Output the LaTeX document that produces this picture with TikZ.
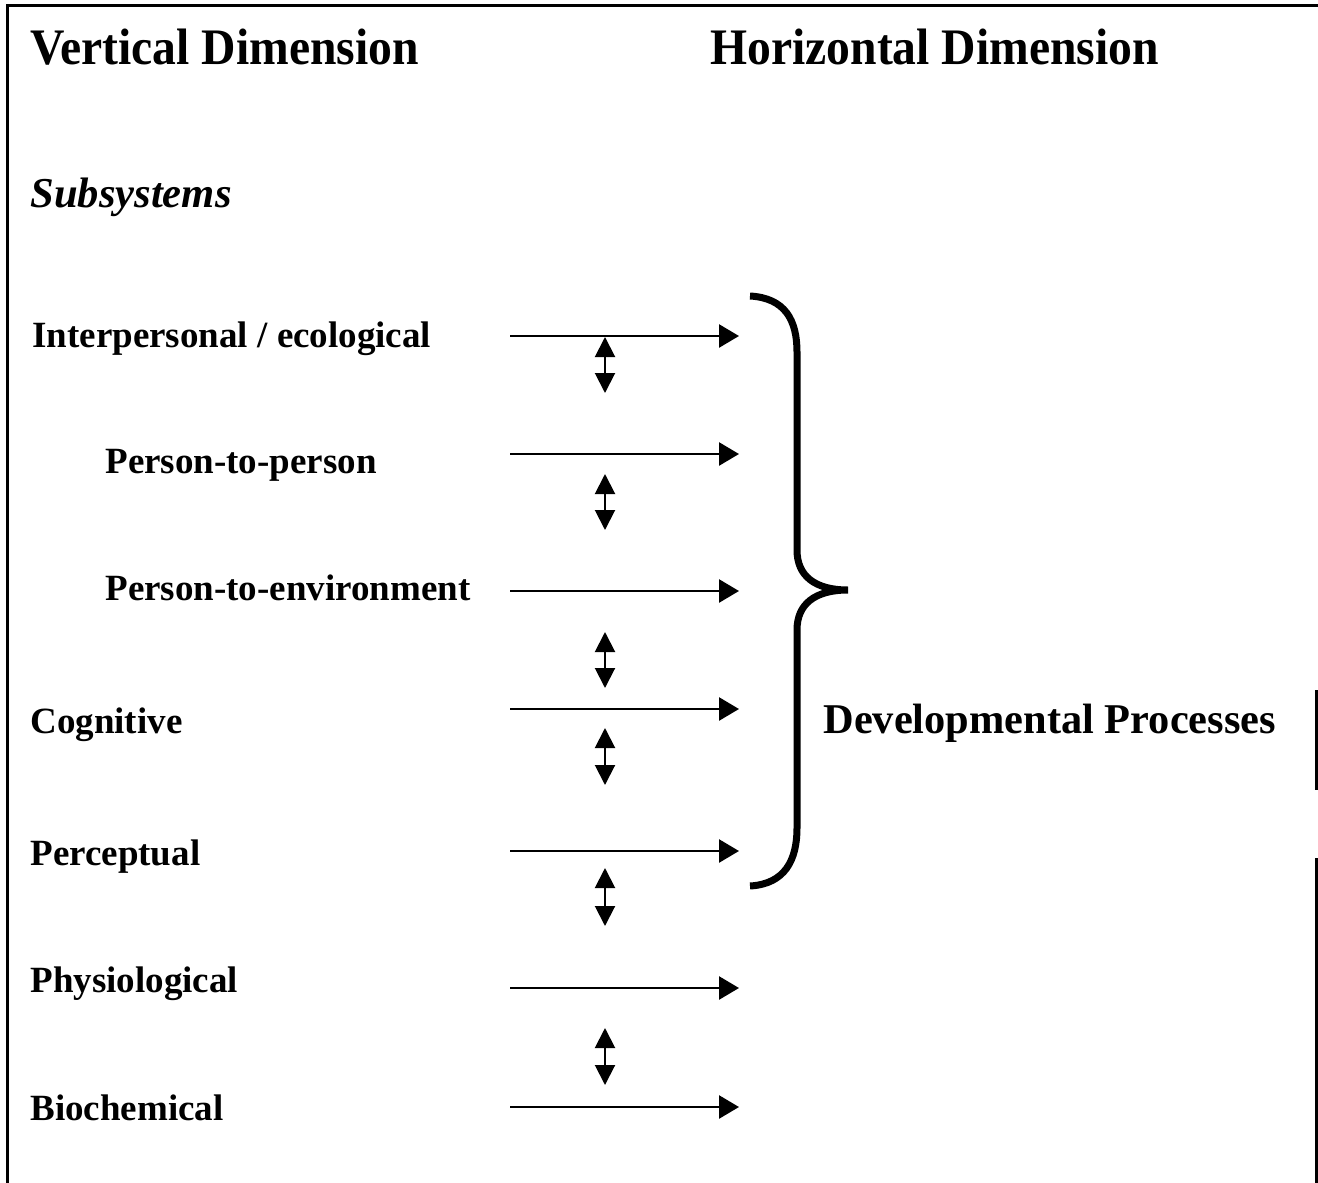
\documentclass[tikz,border=0pt]{standalone}
\usepackage{fontspec}
\setmainfont{Liberation Serif}
\usepackage{tikz}
\usetikzlibrary{arrows.meta}
\usetikzlibrary{positioning}
\tikzset{
  lbl/.style = {inner sep=0pt, anchor=base west, font=\fontsize{18.5}{22}\selectfont\bfseries},
  dim_title/.style = {inner sep=0pt, anchor=base west, xscale=0.93, transform shape,
    font=\fontsize{25.6}{30}\selectfont\bfseries},% titres, un peu serres
  sub_title/.style = {inner sep=0pt, anchor=base west,
    font=\fontsize{21.3}{25}\selectfont\bfseries\itshape},
  proc_lbl/.style = {lbl, font=\fontsize{21.2}{25}\selectfont\bfseries},
  flow_arr/.style = {line width=1.3pt, -{Triangle[length=10pt,width=11.5pt]}},% niveau -> processus
  link_arr/.style = {line width=1pt, {Triangle[length=10pt,width=10pt]}-{Triangle[length=10pt,width=10pt]}},
  frame_ln/.style = {line width=1.5pt}
}

\begin{document}
\begin{tikzpicture}[x=0.5pt,y=-0.5pt]
\useasboundingbox (0,0) rectangle (1318,1183);

% cadre
\draw[frame_ln] (7,1183) -- (7,5) -- (1318,5);
\draw[frame_ln] (1316,690) -- (1316,790);
\draw[frame_ln] (1316,858) -- (1316,1183);

\node[dim_title] (vdim) at (30,64) {Vertical Dimension};
\node[dim_title] (hdim) at (710,64) {Horizontal Dimension};
\node[sub_title] (subsys) at (30,207) {Subsystems};

\node[lbl] (inter) at (32,347) {Interpersonal / ecological};
\node[lbl] (pers) at (105,473) {Person-to-person};
\node[lbl] (envt) at (105,600) {Person-to-environment};
\node[lbl] (cogn) at (30,733) {Cognitive};
\node[lbl] (perc) at (30,865) {Perceptual};
\node[lbl] (phys) at (30,992) {Physiological};
\node[lbl] (bioc) at (30,1120) {Biochemical};
\node[proc_lbl] (devp) at (823,733) {Developmental Processes};

% fleches horizontales
\foreach \y [count=\i] in {336,454,591,709,851,988,1107}{
  \coordinate (s\i) at (510,\y);
  \coordinate (e\i) at (739,\y);
  \draw[flow_arr] (s\i) -- (e\i);
}
% liens entre niveaux
\foreach \ya/\yb [count=\i] in {337/393,474/530,632/688,728/785,868/926,1028/1085}{
  \coordinate (u\i) at (605,\ya);
  \coordinate (d\i) at (605,\yb);
  \draw[link_arr] (u\i) -- (d\i);
}

% accolade
\coordinate (btop) at (750,296);
\coordinate (btip) at (848,590);
\coordinate (bbot) at (750,886);
\draw[line width=3.5pt] (btop) .. controls (785,298) and (797,320) .. (797,352)
  -- (797,550) .. controls (797,576) and (815,590) .. (btip)
  .. controls (815,590) and (797,604) .. (797,630)
  -- (797,828) .. controls (797,860) and (785,884) .. (bbot);
\end{tikzpicture}
\end{document}
